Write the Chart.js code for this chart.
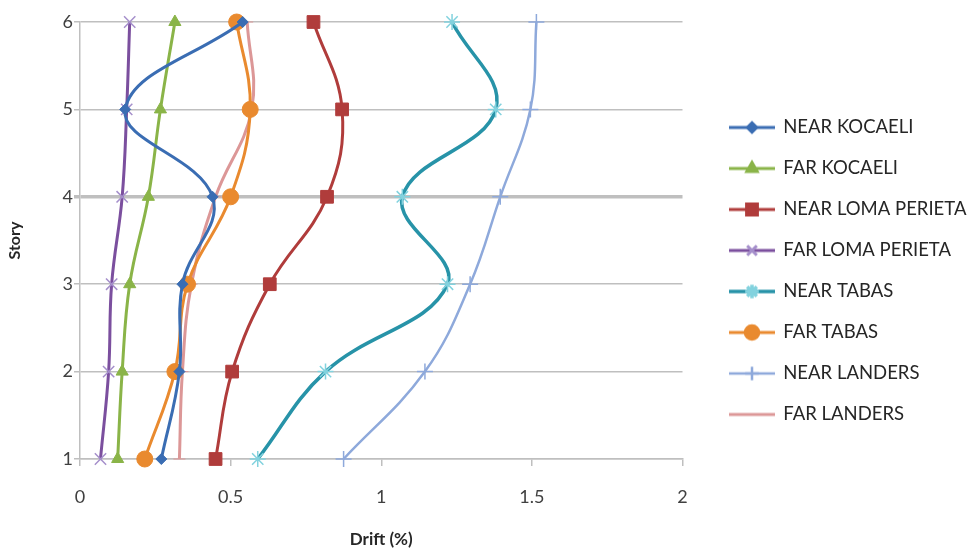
<!DOCTYPE html>
<html>
<head>
<meta charset="utf-8">
<script src="https://cdn.jsdelivr.net/npm/chart.js@4.4.1/dist/chart.umd.min.js"></script>
<style>
  html, body { margin: 0; padding: 0; background: #fff; }
</style>
</head>
<body>
<canvas id="driftChart" width="976" height="554"></canvas>
<script>
// story levels and drift (%) per record
const stories = [1, 2, 3, 4, 5, 6];
const nearKocaeli     = [0.27, 0.33, 0.34, 0.44, 0.15, 0.54];
const farKocaeli      = [0.125, 0.14, 0.165, 0.227, 0.267, 0.315];
const nearLomaPerieta = [0.45, 0.505, 0.63, 0.82, 0.87, 0.775];
const farLomaPerieta  = [0.068, 0.095, 0.105, 0.14, 0.155, 0.165];
const nearTabas       = [0.59, 0.815, 1.22, 1.07, 1.38, 1.235];
const farTabas        = [0.215, 0.315, 0.357, 0.50, 0.565, 0.52];
const nearLanders     = [0.875, 1.145, 1.295, 1.395, 1.495, 1.515];
const farLanders      = [0.33, 0.34, 0.37, 0.45, 0.57, 0.555];

const driftTicks = [0, 0.5, 1, 1.5, 2];
const seriesNames = ['NEAR KOCAELI', 'FAR KOCAELI', 'NEAR LOMA PERIETA', 'FAR LOMA PERIETA',
                     'NEAR TABAS', 'FAR TABAS', 'NEAR LANDERS', 'FAR LANDERS'];
const seriesValues = [nearKocaeli, farKocaeli, nearLomaPerieta, farLomaPerieta,
                      nearTabas, farTabas, nearLanders, farLanders];

// look of each series: line colour, marker colour, marker, size, line width
const looks = [
    { line: '#3a6db3', mark: '#3a6db3', style: 'rectRot',  r: 5.5, w: 3 },
    { line: '#8ab448', mark: '#8ab448', style: 'triangle', r: 7,   w: 3 },
    { line: '#b03c3b', mark: '#b03c3b', style: 'rect',     r: 9,   w: 3 },
    { line: '#7b4f9e', mark: '#a58fcb', style: 'crossRot', r: 8,   w: 3 },
    { line: '#2793a8', mark: '#82d2de', style: 'star',     r: 8,   w: 3.5 },
    { line: '#e98a2f', mark: '#e98a2f', style: 'circle',   r: 8,   w: 3 },
    { line: '#8ea9db', mark: '#8ea9db', style: 'cross',    r: 8,   w: 2.5 },
    { line: '#dc9797', mark: '#dc9797', style: 'line',     r: 6,   w: 3 }
];

const FONT = 'Lato, "Open Sans", sans-serif';

// small line + marker swatch for the legend
function legendSwatch(look) {
    const c = document.createElement('canvas');
    c.width = 50; c.height = 22;
    const g = c.getContext('2d');
    g.strokeStyle = look.line;
    g.lineWidth = look.w;
    g.beginPath(); g.moveTo(2, 11); g.lineTo(48, 11); g.stroke();
    g.fillStyle = look.mark;
    g.strokeStyle = look.mark;
    if (look.style !== 'line') {
        Chart.helpers.drawPoint(g, { pointStyle: look.style, rotation: 0, radius: look.r * 0.85, borderWidth: 1.5 }, 25, 11);
    }
    return c;
}

// nudge the legend block to where the original sits
const legendPlace = {
    id: 'legendPlace',
    afterLayout(chart) {
        const l = chart.legend;
        l.left += 25;
        l.right = chart.width;
        l.top -= 17;
        l.bottom -= 17;
    }
};

const datasets = seriesNames.map(function(name, i) {
    const look = looks[i];
    return {
        label: name,
        data: stories.map((s, k) => ({ x: seriesValues[i][k], y: s })),
        showLine: true,
        tension: 0.4,
        borderColor: look.line,
        borderWidth: look.w,
        backgroundColor: look.mark,
        pointStyle: look.style,
        pointRadius: look.r,
        pointBorderColor: look.mark,
        pointBackgroundColor: look.mark,
        pointBorderWidth: (look.style === 'cross' || look.style === 'crossRot' || look.style === 'star') ? 1.5 : 1,
        legendSwatch: legendSwatch(look),
        clip: false
    };
});

const ctx = document.getElementById('driftChart').getContext('2d');
const driftChart = new Chart(ctx, {
    type: 'scatter',
    data: { datasets: datasets },
    plugins: [legendPlace],
    options: {
        responsive: false,
        animation: false,
        layout: { padding: { top: 22, right: 66, left: 0, bottom: 0 } },
        plugins: {
            tooltip: { enabled: false },
            legend: {
                position: 'right',
                align: 'center',
                labels: {
                    usePointStyle: true,
                    pointStyleWidth: 44,
                    padding: 22.5,
                    color: '#262626',
                    font: { family: FONT, size: 18.5 },
                    generateLabels: function(chart) {
                        return chart.data.datasets.map((ds, i) => ({
                            text: ds.label,
                            pointStyle: ds.legendSwatch,
                            fillStyle: ds.borderColor,
                            strokeStyle: ds.borderColor,
                            lineWidth: 0,
                            fontColor: '#262626',
                            datasetIndex: i
                        }));
                    }
                }
            }
        },
        scales: {
            x: {
                type: 'linear',
                min: 0,
                max: 2,
                afterFit: function(scale) { scale.height = 95; },
                afterBuildTicks: function(scale) { scale.ticks = driftTicks.map(v => ({ value: v })); },
                grid: { drawOnChartArea: false, drawTicks: true, tickLength: 7, color: '#bfbfbf', lineWidth: 1.5 },
                border: { color: '#bfbfbf', width: 1.5 },
                ticks: { padding: 20, color: '#404040', font: { family: FONT, size: 18 },
                         callback: v => String(v) },
                title: { display: true, text: 'Drift (%)', color: '#262626', padding: { top: 0, bottom: 4 },
                         font: { family: FONT, size: 17, weight: 'bold' } }
            },
            y: {
                type: 'linear',
                min: 1,
                max: 6,
                afterFit: function(scale) { scale.width = 80; },
                afterBuildTicks: function(scale) { scale.ticks = stories.map(v => ({ value: v })); },
                grid: {
                    color: '#bfbfbf',
                    lineWidth: c => (c.tick && c.tick.value === 4 ? 3.5 : 1.5),
                    tickLength: 6
                },
                border: { color: '#bfbfbf', width: 1.5 },
                ticks: { padding: 1, color: '#404040', font: { family: FONT, size: 18 },
                         callback: v => String(v) },
                title: { display: true, text: 'Story', color: '#262626', padding: { top: 5, bottom: 0 },
                         font: { family: FONT, size: 16, weight: 'bold' } }
            }
        }
    }
});
</script>
</body>
</html>
